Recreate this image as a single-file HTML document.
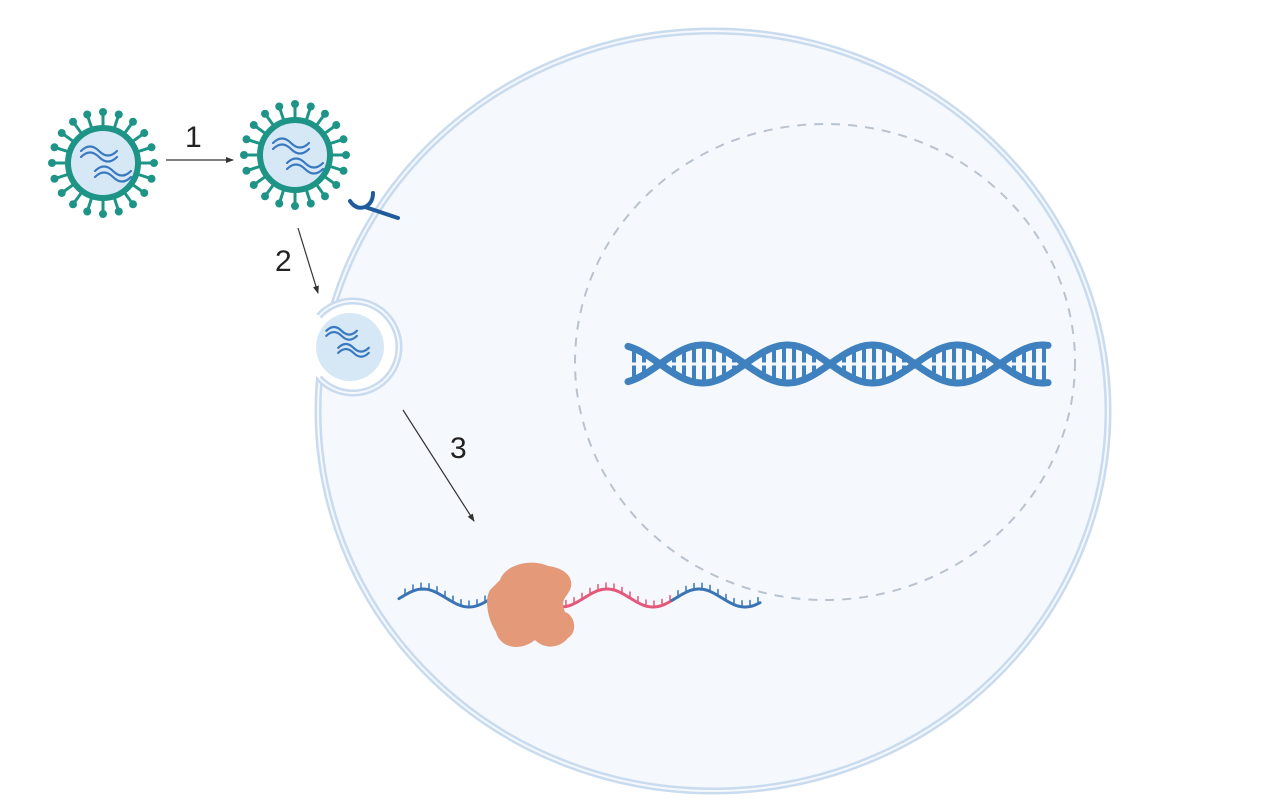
<!DOCTYPE html>
<html><head><meta charset="utf-8"><style>
html,body{margin:0;padding:0;background:#fff;width:1264px;height:806px;overflow:hidden}
svg{display:block}
text{font-family:"Liberation Sans",sans-serif;font-size:30px;fill:#222}
</style></head><body>
<svg id="s" width="1264" height="806" viewBox="0 0 1264 806">
<defs>
<marker id="ah" markerWidth="8" markerHeight="8" refX="7" refY="4" orient="auto" markerUnits="userSpaceOnUse"><path d="M0,1 L8,4 L0,7 Z" fill="#333"/></marker>
<mask id="m"><rect width="1264" height="806" fill="#fff"/><circle cx="352" cy="347" r="46" fill="#000"/></mask>
</defs>
<g mask="url(#m)">
<ellipse cx="713" cy="411" rx="395" ry="380" fill="#f5f8fd" stroke="#c9dbee" stroke-width="7"/>
<ellipse cx="713" cy="411" rx="395" ry="380" fill="none" stroke="#f5f8fd" stroke-width="2"/>
</g>
<path d="M319,316 A46,46 0 1 1 319,378" fill="none" stroke="#c9dbee" stroke-width="7"/>
<path d="M319,316 A46,46 0 1 1 319,378" fill="none" stroke="#f5f8fd" stroke-width="2"/>
<ellipse cx="825" cy="362" rx="250" ry="238" fill="none" stroke="#b9c3cf" stroke-width="2" stroke-dasharray="9,8"/>
<circle cx="350" cy="347" r="34" fill="#d6e8f5"/>
<g id="dna" fill="none" stroke="#3f80bf" stroke-linecap="round"></g>
<g id="mrna" fill="none" stroke-linecap="round"></g>
<path id="rib" d="M500,580 C505,565 530,558 548,566 C565,568 575,578 570,590 C566,598 560,600 565,612 C575,615 578,632 568,638 C560,648 545,650 535,640 C520,652 500,648 496,632 C488,620 484,600 490,590 Z" fill="#e49a78"/>
<line x1="166" y1="160" x2="233" y2="160" stroke="#333" stroke-width="1.2" marker-end="url(#ah)"/>
<line x1="298" y1="228" x2="318" y2="293" stroke="#333" stroke-width="1.2" marker-end="url(#ah)"/>
<line x1="403" y1="410" x2="474" y2="521" stroke="#333" stroke-width="1.2" marker-end="url(#ah)"/>
<text x="185" y="147">1</text>
<text x="275" y="271">2</text>
<text x="450" y="458">3</text>
<path d="M350,201 Q356,210 365,207 Q373,203 373,193 M365,207 L398,218" fill="none" stroke="#1f5b9c" stroke-width="4" stroke-linecap="round"/>
<g id="v"></g>
</svg>
<script>
var NS="http://www.w3.org/2000/svg";
function el(p,t,a){var e=document.createElementNS(NS,t);for(var k in a)e.setAttribute(k,a[k]);p.appendChild(e);return e;}
var v=document.getElementById('v');
function virus(cx,cy){
 for(var i=0;i<20;i++){var a=i*Math.PI*2/20;
  el(v,'line',{x1:cx+Math.cos(a)*36,y1:cy+Math.sin(a)*36,x2:cx+Math.cos(a)*50,y2:cy+Math.sin(a)*50,stroke:'#1e9486','stroke-width':3});
  el(v,'circle',{cx:cx+Math.cos(a)*51,cy:cy+Math.sin(a)*51,r:4,fill:'#1e9486'});}
 el(v,'circle',{cx:cx,cy:cy,r:35,fill:'#d6e8f5',stroke:'#1e9486','stroke-width':6});
 waves(cx,cy,1);
}
function waves(cx,cy,s){
 var offs=[[-22,-12],[-22,-6],[-8,8],[-8,14]];
 offs.forEach(function(o){var x=cx+o[0]*s,y=cy+o[1]*s;
  el(v,'path',{d:'M'+x+','+y+' c'+(6*s)+','+(-6*s)+' '+(12*s)+','+(-6*s)+' '+(18*s)+',0 s'+(12*s)+','+(6*s)+' '+(18*s)+',0',fill:'none',stroke:'#3a78c0','stroke-width':2.2,'stroke-linecap':'round'});});
}
virus(103,163);virus(295,155);
waves(345,341,0.85);
var g=document.getElementById('dna');
var x0=628,x1=1048,cy=364,A=19,P=170,ph=660;
function sx(x,s){return cy+s*A*Math.sin((x-ph)*Math.PI*2/P);}
[1,-1].forEach(function(s){var d='';for(var x=x0;x<=x1;x+=2){d+=(x==x0?'M':'L')+x+','+sx(x,s).toFixed(1);}el(g,'path',{d:d,'stroke-width':7});});
for(var x=x0+6;x<x1;x+=10){var a=sx(x,1),b=sx(x,-1);if(Math.abs(a-b)>14){var lo=Math.min(a,b)+3,hi=Math.max(a,b)-3,mid=(lo+hi)/2;
 el(g,'line',{x1:x,y1:lo,x2:x,y2:mid-1.5,'stroke-width':4,'stroke-linecap':'butt'});el(g,'line',{x1:x,y1:mid+1.5,x2:x,y2:hi,'stroke-width':4,'stroke-linecap':'butt'});}}
var m=document.getElementById('mrna');
function seg(a,b,col){var d='';for(var x=a;x<=b;x+=2){var y=598+9*Math.sin((x-400)*Math.PI*2/92+Math.PI);d+=(x==a?'M':'L')+x+','+y.toFixed(1);}el(m,'path',{d:d,stroke:col,'stroke-width':3});
 for(var x=a+6;x<b;x+=8){var y=598+9*Math.sin((x-400)*Math.PI*2/92+Math.PI);el(m,'line',{x1:x,y1:y,x2:x,y2:y-6,stroke:col,'stroke-width':1.5});}}
seg(399,500,'#3a74b4');seg(560,672,'#e4587a');seg(672,760,'#3a74b4');
var r=document.getElementById('rib');r.parentNode.appendChild(r);
</script>
</body></html>
